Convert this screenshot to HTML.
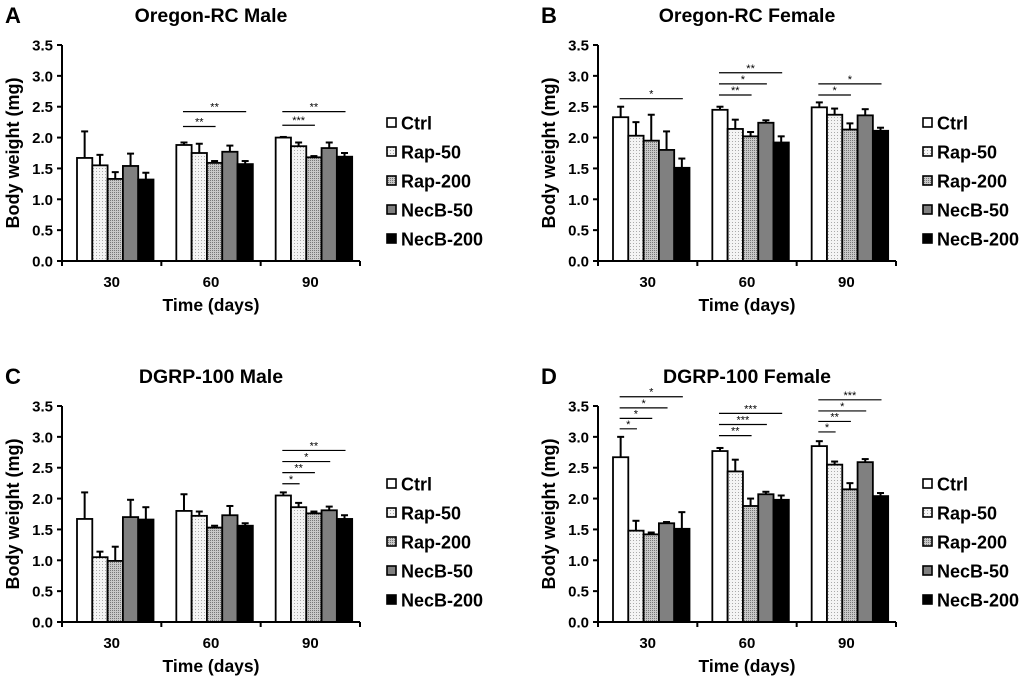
<!DOCTYPE html>
<html><head><meta charset="utf-8">
<style>
body{margin:0;background:#fff;}
svg{display:block;font-family:"Liberation Sans",Arial,sans-serif;font-weight:bold;}
</style></head>
<body>
<svg id="fig" width="1020" height="680" viewBox="0 0 1020 680">
<defs>
<pattern id="p50" width="3" height="3" patternUnits="userSpaceOnUse"><rect width="3" height="3" fill="#f4f4f4"/><rect width="1" height="1" fill="#aaa"/></pattern>
<pattern id="p200" width="2" height="2" patternUnits="userSpaceOnUse"><rect width="2" height="2" fill="#c8c8c8"/><rect width="1" height="1" fill="#777"/></pattern>
</defs>
</svg>
<script>
const groups = ['30','60','90'];
const seriesNames = ['Ctrl','Rap-50','Rap-200','NecB-50','NecB-200'];
const yTicks = ['0.0','0.5','1.0','1.5','2.0','2.5','3.0','3.5'];
const panelTitles = ['Oregon-RC Male','Oregon-RC Female','DGRP-100 Male','DGRP-100 Female'];
const panelLetters = ['A','B','C','D'];
// values[series][group]
const valuesA = [[1.67,1.88,2.0],[1.55,1.75,1.86],[1.33,1.59,1.68],[1.54,1.77,1.83],[1.32,1.57,1.69]];
const errorsA = [[0.43,0.04,0.01],[0.17,0.15,0.06],[0.11,0.03,0.02],[0.2,0.1,0.09],[0.11,0.05,0.06]];
const valuesB = [[2.33,2.45,2.49],[2.03,2.14,2.37],[1.95,2.02,2.13],[1.8,2.24,2.36],[1.51,1.92,2.11]];
const errorsB = [[0.17,0.05,0.08],[0.22,0.15,0.1],[0.42,0.07,0.1],[0.3,0.04,0.1],[0.15,0.1,0.05]];
const valuesC = [[1.67,1.8,2.05],[1.05,1.72,1.86],[0.99,1.53,1.76],[1.7,1.73,1.81],[1.66,1.56,1.67]];
const errorsC = [[0.43,0.27,0.05],[0.09,0.07,0.07],[0.23,0.03,0.03],[0.28,0.15,0.06],[0.2,0.04,0.06]];
const valuesD = [[2.67,2.77,2.85],[1.48,2.44,2.55],[1.42,1.88,2.15],[1.6,2.07,2.59],[1.51,1.98,2.04]];
const errorsD = [[0.33,0.05,0.08],[0.16,0.19,0.05],[0.03,0.12,0.1],[0.02,0.04,0.05],[0.27,0.07,0.05]];
// significance: [group, target series, y value, label]
const sigA = [[1,2,2.18,'**'],[1,4,2.42,'**'],[2,2,2.2,'***'],[2,4,2.42,'**']];
const sigB = [[0,4,2.63,'*'],[1,2,2.69,'**'],[1,3,2.87,'*'],[1,4,3.05,'**'],[2,2,2.69,'*'],[2,4,2.87,'*']];
const sigC = [[2,1,2.24,'*'],[2,2,2.42,'**'],[2,3,2.6,'*'],[2,4,2.78,'**']];
const sigD = [[0,1,3.13,'*'],[0,2,3.3,'*'],[0,3,3.47,'*'],[0,4,3.65,'*'],[1,2,3.02,'**'],[1,3,3.2,'***'],[1,4,3.38,'***'],[2,1,3.08,'*'],[2,2,3.25,'**'],[2,3,3.42,'*'],[2,4,3.6,'***']];

const fills = ['#fff','url(#p50)','url(#p200)','#808080','#000'];
const NS='http://www.w3.org/2000/svg';
const svg=document.getElementById('fig');
function mk(tag,attrs,parent,text){const e=document.createElementNS(NS,tag);for(const k in attrs)e.setAttribute(k,attrs[k]);if(text!==undefined)e.textContent=text;parent.appendChild(e);return e;}

const panels=[
 {ox:62,oy:45,v:valuesA,e:errorsA,s:sigA},
 {ox:598,oy:45,v:valuesB,e:errorsB,s:sigB},
 {ox:62,oy:406,v:valuesC,e:errorsC,s:sigC},
 {ox:598,oy:406,v:valuesD,e:errorsD,s:sigD}];
const H=216,W=298,GW=W/3,BW=15.3,YMAX=3.5;

panels.forEach((p,pi)=>{
 const g=mk('g',{},svg);
 
 
 const y=v=>p.oy+H-v/YMAX*H;
 const bx=(gi,si)=>p.ox+gi*GW+15+si*BW;
 const lt=mk('text',{x:p.ox-57,y:p.oy-22,'font-size':22},g,panelLetters[pi]);
 
 const tt=mk('text',{x:p.ox+W/2,y:p.oy-23,'font-size':19.5,'text-anchor':'middle'},g,panelTitles[pi]);
 
 p.v.forEach((ser,si)=>ser.forEach((val,gi)=>{
   const x=bx(gi,si),top=y(val),et=y(val+p.e[si][gi]),cx=x+BW/2;
   const ln=mk('line',{x1:cx,x2:cx,y1:top,y2:et,stroke:'#000','stroke-width':2},g);
   
   mk('line',{x1:cx-3.5,x2:cx+3.5,y1:et,y2:et,stroke:'#000','stroke-width':2},g);
   const r=mk('rect',{x:x,y:top,width:BW,height:p.oy+H-top,fill:fills[si],stroke:'#000','stroke-width':1.8},g);
   
   
 }));
 p.s.forEach(([gi,ti,v,lab])=>{
   const x1=bx(gi,0)+BW/2-1,x2=bx(gi,ti)+BW/2+1,yy=y(v);
   const l=mk('line',{x1:x1,x2:x2,y1:yy,y2:yy,stroke:'#000','stroke-width':1.2},g);
   
   mk('text',{x:(x1+x2)/2,y:yy-1,'font-size':11,'font-weight':'normal','text-anchor':'middle'},g,lab);
 });
 const ya=mk('line',{x1:p.ox,x2:p.ox,y1:p.oy,y2:p.oy+H,stroke:'#000','stroke-width':2},g);
 
 const xa=mk('line',{x1:p.ox,x2:p.ox+W,y1:p.oy+H,y2:p.oy+H,stroke:'#000','stroke-width':2},g);
 
 yTicks.forEach(t=>{const yy=y(parseFloat(t));
   mk('line',{x1:p.ox-5,x2:p.ox,y1:yy,y2:yy,stroke:'#000','stroke-width':2},g);
   const tl=mk('text',{x:p.ox-9,y:yy+5.5,'font-size':15,'text-anchor':'end'},g,t);
   });
 for(let i=0;i<=3;i++)mk('line',{x1:p.ox+i*GW,x2:p.ox+i*GW,y1:p.oy+H,y2:p.oy+H+5,stroke:'#000','stroke-width':2},g);
 groups.forEach((gname,gi)=>{const xl=mk('text',{x:p.ox+gi*GW+GW/2,y:p.oy+H+26,'font-size':15,'text-anchor':'middle'},g,gname);
   });
 const xt=mk('text',{x:p.ox+W/2,y:p.oy+H+50,'font-size':17.5,'text-anchor':'middle'},g,'Time (days)');
 
 const cy=p.oy+H/2;
 const yt=mk('text',{x:p.ox-43,y:cy,'font-size':18,'text-anchor':'middle',transform:`rotate(-90 ${p.ox-43} ${cy})`},g,'Body weight (mg)');
 
 seriesNames.forEach((n,si)=>{const ly=p.oy+78+si*29;
   const le=mk('g',{},g);
   
   mk('rect',{x:p.ox+325,y:ly-5,width:9,height:9,fill:fills[si],stroke:'#000','stroke-width':1.6},le);
   mk('text',{x:p.ox+339,y:ly+6.5,'font-size':18},le,n);
 });
});
</script>
</body></html>
